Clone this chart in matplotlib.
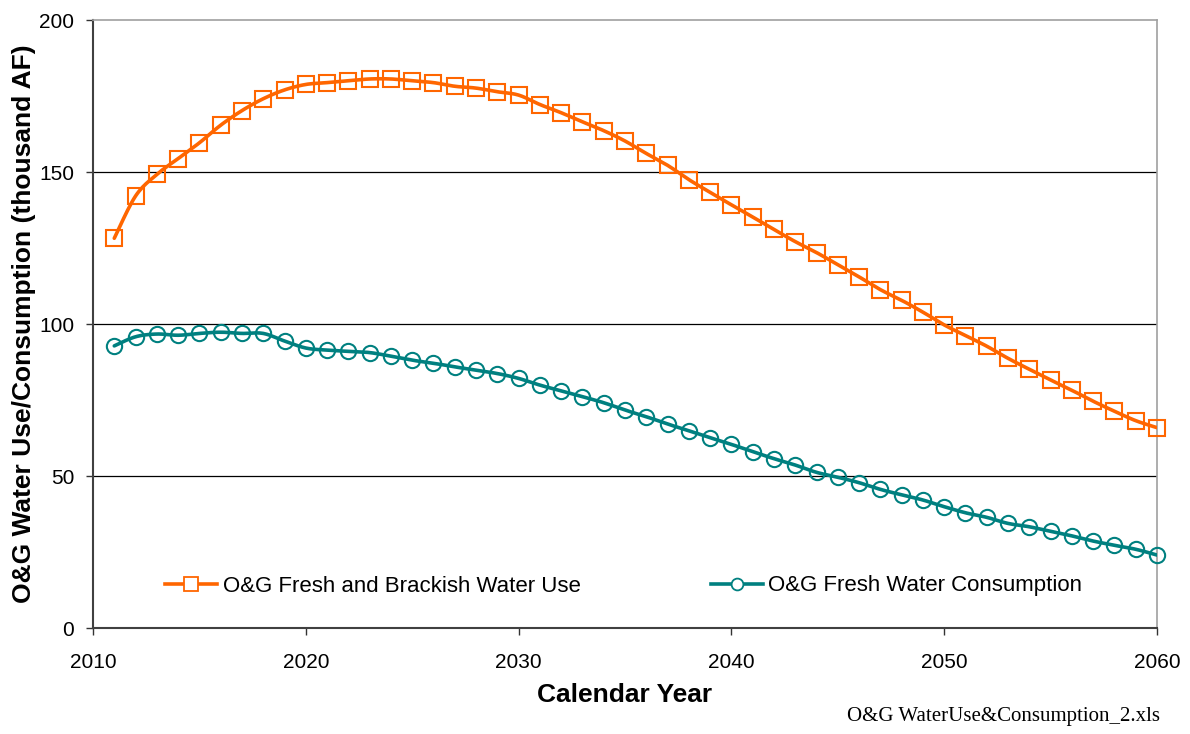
import numpy as np
import matplotlib
matplotlib.use("Agg")
import matplotlib.pyplot as plt

years = list(range(2011, 2061))
water_use = [128.2, 142.1, 149.2, 154.4, 159.6, 165.4, 170.2, 174.1, 177.0, 178.8,
             179.4, 180.0, 180.6, 180.6, 180.0, 179.4, 178.2, 177.6, 176.4, 175.3,
             172.2, 169.5, 166.5, 163.6, 160.2, 156.1, 152.2, 147.5, 143.3, 139.2,
             135.2, 131.1, 127.1, 123.5, 119.5, 115.5, 111.3, 107.8, 103.9, 99.7,
             96.2, 92.7, 88.7, 85.1, 81.6, 78.2, 74.6, 71.3, 68.2, 65.9]
consumption = [92.8, 95.8, 96.7, 96.3, 96.9, 97.3, 96.9, 96.9, 94.4, 92.1,
               91.4, 91.0, 90.6, 89.4, 88.1, 87.1, 85.9, 84.8, 83.7, 82.1,
               79.9, 78.0, 76.1, 74.1, 71.7, 69.5, 67.1, 64.9, 62.6, 60.4,
               58.0, 55.7, 53.6, 51.2, 49.6, 47.8, 45.6, 43.8, 42.1, 39.9,
               37.9, 36.4, 34.4, 33.3, 31.8, 30.3, 28.6, 27.2, 25.9, 24.0]
series_names = ["O&G Fresh and Brackish Water Use", "O&G Fresh Water Consumption"]
x_ticks = [2010, 2020, 2030, 2040, 2050, 2060]
y_ticks = [0, 50, 100, 150, 200]

ORANGE = "#FF6600"
TEAL = "#008080"


def smooth(xs, ys, n=12):
    """Excel-like smoothed line (Catmull-Rom Bezier through data points)."""
    xs = np.asarray(xs, float)
    ys = np.asarray(ys, float)
    px = np.concatenate([[xs[0]], xs, [xs[-1]]])
    py = np.concatenate([[ys[0]], ys, [ys[-1]]])
    ox, oy = [], []
    t = np.linspace(0, 1, n, endpoint=False)
    for i in range(1, len(px) - 2):
        p0 = np.array([px[i], py[i]])
        p3 = np.array([px[i + 1], py[i + 1]])
        p1 = p0 + (np.array([px[i + 1], py[i + 1]]) - np.array([px[i - 1], py[i - 1]])) / 6
        p2 = p3 - (np.array([px[i + 2], py[i + 2]]) - np.array([px[i], py[i]])) / 6
        b = ((1 - t) ** 3)[:, None] * p0 + (3 * (1 - t) ** 2 * t)[:, None] * p1 \
            + (3 * (1 - t) * t ** 2)[:, None] * p2 + (t ** 3)[:, None] * p3
        ox.extend(b[:, 0]); oy.extend(b[:, 1])
    ox.append(xs[-1]); oy.append(ys[-1])
    return np.array(ox), np.array(oy)


plt.rcParams['font.family'] = ['Liberation Sans', 'DejaVu Sans']

fig = plt.figure(figsize=(11.9, 7.34), dpi=100)
ax = fig.add_axes([93 / 1190, 1 - 628 / 734, (1157 - 93) / 1190, (628 - 20) / 734])

for ys, col, mk, ms, lms, name in [(water_use, ORANGE, 's', 12, 9.5, series_names[0]),
                                   (consumption, TEAL, 'o', 11, 8.5, series_names[1])]:
    sx, sy = smooth(years, ys)
    ax.plot(sx, sy, color=col, lw=2.6, zorder=3, solid_capstyle='round')
    ax.plot(years, ys, linestyle='none', marker=mk, markersize=ms, clip_on=False,
            markerfacecolor='none', markeredgecolor=col, markeredgewidth=1.5, zorder=4)
    ax.plot([], [], color=col, lw=2.6, marker=mk, markersize=lms,
            markerfacecolor='white', markeredgecolor=col, markeredgewidth=1.3, label=name)

ax.set_xlim(2010, 2060)
ax.set_ylim(0, 200)
ax.set_xticks(x_ticks)
ax.set_yticks(y_ticks)
ax.tick_params(axis='both', direction='out', length=5, width=1, labelsize=15, colors='#333333',
               labelcolor='black')
ax.tick_params(axis='x', pad=13)
ax.tick_params(axis='y', pad=8.5)
for v in [50, 100, 150]:
    ax.axhline(v, color='black', lw=0.9, zorder=1)

for s in ['left', 'bottom']:
    ax.spines[s].set_color('#404040')
    ax.spines[s].set_linewidth(1.5)
for s in ['top', 'right']:
    ax.spines[s].set_color('#a0a0a0')
    ax.spines[s].set_linewidth(1.2)

ax.set_xlabel("Calendar Year", fontsize=19, fontweight='bold', labelpad=8)
ax.set_ylabel("O&G Water Use/Consumption (thousand AF)", fontsize=19, fontweight='bold', labelpad=2.5)

ax.legend(loc='center left', bbox_to_anchor=(72 / 1064, (628 - 586) / 608), ncol=2,
          frameon=False, fontsize=16, handlelength=2.35, handletextpad=0.25, columnspacing=5.85,
          borderaxespad=0, borderpad=0)

fig.text(1160 / 1190, 1 - 716 / 734, "O&G WaterUse&Consumption_2.xls", ha='right', va='center',
         fontsize=15, family=['Liberation Serif', 'DejaVu Serif'])

fig.savefig("out.png", dpi=100)
